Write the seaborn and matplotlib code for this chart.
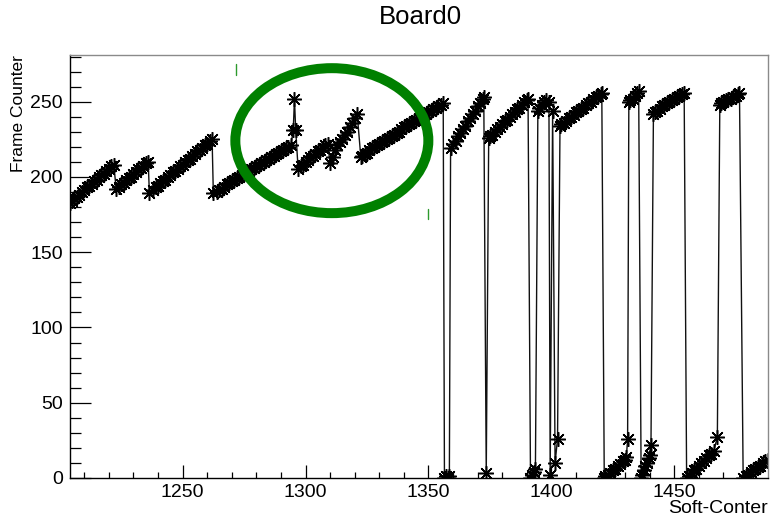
import matplotlib
matplotlib.use("Agg")
import matplotlib.pyplot as plt
from matplotlib.patches import Ellipse
from matplotlib.ticker import MultipleLocator
import seaborn as sns
import pandas as pd

# ---- data ----
soft_counter = [
    1204, 1205, 1206, 1207, 1208, 1209, 1210, 1211, 1212, 1213, 1214, 1215, 1216, 1217, 1218, 1219, 1220, 1221, 1222,
    1223, 1224, 1225, 1226, 1227, 1228, 1229, 1230, 1231, 1232, 1233, 1234, 1235, 1236,
    1236.5, 1238, 1239, 1240, 1241, 1242, 1243, 1244, 1245, 1246, 1247, 1248, 1249, 1250, 1251, 1252, 1253, 1254,
    1255, 1256, 1257, 1258, 1259, 1260, 1261, 1262,
    1262.5, 1264, 1265, 1266, 1267, 1268, 1269, 1270, 1271, 1272, 1273, 1274, 1275, 1276, 1277, 1278, 1279, 1280,
    1281, 1282, 1283, 1284, 1285, 1286, 1287, 1288, 1289, 1290, 1291, 1292, 1293, 1294,
    1295, 1295.5, 1296,
    1297, 1298, 1299, 1300, 1301, 1302, 1303, 1304, 1305, 1306, 1307, 1308, 1309,
    1310, 1311, 1312, 1313, 1314, 1315, 1316, 1317, 1318, 1319, 1320, 1321,
    1322.5, 1323, 1324, 1325, 1326, 1327, 1328, 1329, 1330, 1331, 1332, 1333, 1334, 1335, 1336, 1337, 1338, 1339,
    1340, 1341, 1342, 1343, 1344, 1345, 1346, 1347, 1348, 1349, 1350, 1351, 1352, 1353, 1354, 1355, 1356,
    1356.5, 1357, 1358, 1358.5,
    1359, 1360, 1361, 1362, 1363, 1364, 1365, 1366, 1367, 1368, 1369, 1370, 1371, 1372, 1372.5,
    1373.5,
    1374.5, 1375, 1376, 1377, 1378, 1379, 1380, 1381, 1382, 1383, 1384, 1385, 1386, 1387, 1388, 1389, 1390, 1390.5,
    1391.5, 1392, 1393, 1393.5,
    1394.5, 1395, 1396, 1397, 1398, 1399,
    1399.5, 1400.5, 1401.5, 1402.5,
    1403.5, 1404, 1405, 1406, 1407, 1408, 1409, 1410, 1411, 1412, 1413, 1414, 1415, 1416, 1417, 1418, 1419, 1420, 1420.5,
    1421.5, 1422, 1423, 1424, 1425, 1426, 1427, 1428, 1429, 1430, 1430.5, 1431,
    1431.5, 1432, 1433, 1434, 1435, 1435.5,
    1436.5, 1437, 1437.5, 1438, 1439, 1439.5, 1440, 1440.5,
    1441.5, 1442, 1443, 1444, 1445, 1446, 1447, 1448, 1449, 1450, 1451, 1452, 1453, 1454,
    1455, 1456, 1457, 1458, 1459, 1460, 1461, 1462, 1463, 1464, 1465, 1466, 1467.5,
    1468.5, 1469, 1470, 1471, 1472, 1473, 1474, 1475, 1476, 1476.5,
    1478, 1479, 1480, 1481, 1482, 1483, 1484, 1485, 1486, 1487, 1488,
]
frame_counter = [
    183, 184, 186, 187, 188, 190, 191, 193, 194, 195, 197, 198, 200, 201, 202, 204, 205, 207, 208,
    192, 193, 195, 196, 198, 199, 200, 202, 203, 205, 206, 207, 209, 210,
    189, 191, 193, 194, 196, 197, 198, 200, 201, 203, 204, 205, 207, 208, 210, 211, 212, 214,
    215, 217, 218, 219, 221, 222, 224, 225,
    189, 190, 191, 192, 193, 195, 196, 197, 198, 199, 200, 201, 202, 203, 204, 205, 206, 207,
    208, 209, 210, 211, 212, 213, 214, 215, 216, 217, 218, 219, 220, 221,
    231, 252, 231,
    205, 207, 208, 210, 211, 213, 214, 215, 217, 218, 219, 221, 222,
    209, 213, 218, 221, 223, 225, 228, 230, 233, 236, 239, 242,
    213, 214, 215, 216, 218, 219, 220, 221, 222, 223, 224, 225, 226, 227, 228, 229, 230, 232,
    233, 234, 235, 236, 237, 238, 239, 240, 241, 242, 243, 244, 245, 246, 247, 248, 249,
    0, 1, 0, 1,
    219, 222, 224, 227, 229, 232, 234, 237, 239, 242, 244, 247, 249, 252, 253,
    3,
    226, 227, 228, 230, 232, 233, 235, 237, 238, 240, 242, 243, 245, 246, 248, 250, 251, 252,
    0, 2, 4, 6,
    244, 246, 248, 250, 251, 250,
    2, 244, 10, 26,
    234, 235, 236, 237, 239, 240, 241, 243, 244, 245, 246, 248, 249, 250, 252, 253, 254, 255, 256,
    0, 1, 2, 3, 5, 6, 8, 9, 11, 12, 14, 26,
    250, 251, 252, 254, 256, 257,
    0, 2, 5, 8, 10, 13, 15, 22,
    242, 243, 244, 245, 247, 248, 249, 250, 251, 252, 253, 254, 255, 256,
    0, 1, 3, 5, 6, 8, 10, 11, 13, 15, 16, 18, 27,
    248, 249, 250, 251, 252, 252, 253, 254, 255, 256,
    0, 1, 2, 4, 5, 6, 7, 8, 10, 11, 12,
]

x_ticks = [1250, 1300, 1350, 1400, 1450]
y_ticks = [0, 50, 100, 150, 200, 250]
x_range = (1204.2, 1488.1)
y_range = (0, 281)

# highlighted region (green ellipse) in data units
ellipse_center = (1310.7, 224.1)
ellipse_size = (78.5, 96.3)

title_text = "Board0"
x_title = "Soft-Conter"
y_title = "Frame Counter"

# ---- style ----
sns.set_theme(style="white")
plt.rcParams["font.family"] = ["Liberation Sans", "DejaVu Sans"]
plt.rcParams["text.color"] = "black"
plt.rcParams["axes.labelcolor"] = "black"
plt.rcParams["xtick.color"] = "black"
plt.rcParams["ytick.color"] = "black"

df = pd.DataFrame({"soft": soft_counter, "frame": frame_counter})

fig = plt.figure(figsize=(7.7, 5.19), dpi=100)
ax = fig.add_axes([70 / 770, 1 - 478 / 519, 698 / 770, 423 / 519])

sns.lineplot(
    data=df, x="soft", y="frame", ax=ax, sort=False, estimator=None,
    color="#111111", linewidth=1.0,
    marker=(8, 2, 0), markersize=10.5, markeredgewidth=1.1,
    markeredgecolor="black", markerfacecolor="black",
)

ax.set_xlim(*x_range)
ax.set_ylim(*y_range)
ax.set_xticks(x_ticks)
ax.set_yticks(y_ticks)
ax.xaxis.set_minor_locator(MultipleLocator(10))
ax.yaxis.set_minor_locator(MultipleLocator(10))

ax.tick_params(axis="y", which="major", direction="in", length=15, width=0.9,
               color="black", labelcolor="black", labelsize=14, pad=5, right=False, left=True)
ax.tick_params(axis="y", which="minor", direction="in", length=7.8, width=0.9,
               color="black", right=False, left=True)
ax.tick_params(axis="x", which="major", direction="in", length=9.3, width=0.9,
               color="black", labelcolor="black", labelsize=14, pad=4, top=False, bottom=True)
ax.tick_params(axis="x", which="minor", direction="in", length=4.3, width=0.9,
               color="black", top=False, bottom=True)

for side in ["left", "bottom"]:
    ax.spines[side].set_color("black")
    ax.spines[side].set_linewidth(1.0)
for side in ["top", "right"]:
    ax.spines[side].set_color("#8a8a8a")
    ax.spines[side].set_linewidth(1.0)

ax.set_xlabel(x_title, fontsize=14, loc="right", color="black")
ax.xaxis.set_label_coords(1.0, -0.052)
ax.set_ylabel(y_title, fontsize=12.5, loc="top", color="black")
ax.yaxis.set_label_coords(-0.063, 1.0)

fig.text(420 / 770, 1 - 17 / 519, title_text, ha="center", va="center",
         fontsize=18.5, color="black")

ell = Ellipse(ellipse_center, ellipse_size[0], ellipse_size[1], fill=False,
              edgecolor="#008000", linewidth=7.2, zorder=5)
ax.add_patch(ell)

# two small green marks present in the reference
ax.plot([1271.7, 1271.7], [268, 275], color="#2e9a2e", lw=1.0, zorder=5)
ax.plot([1349.8, 1349.8], [172, 179], color="#2e9a2e", lw=1.0, zorder=5)

fig.savefig("out.png", dpi=100)
